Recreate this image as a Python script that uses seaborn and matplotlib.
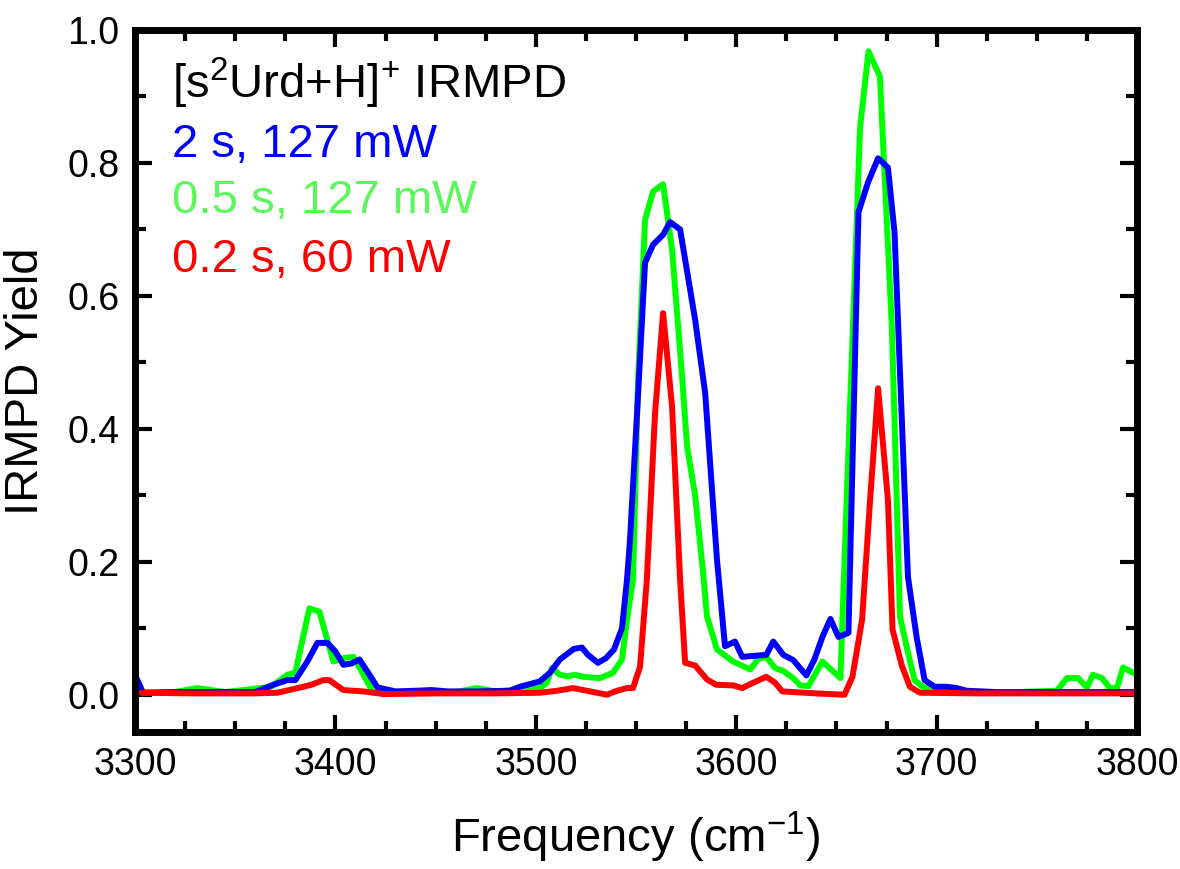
import numpy as np
import pandas as pd
import matplotlib
matplotlib.use("Agg")
import matplotlib.pyplot as plt
from matplotlib.ticker import MultipleLocator
import seaborn as sns

# ---- data ----
blue_x = [3300, 3304, 3320, 3340, 3360, 3369, 3376, 3380, 3386, 3391, 3396, 3400, 3404, 3408, 3412,
          3417, 3421, 3430, 3440, 3448, 3456, 3470, 3487, 3492, 3497, 3502, 3507, 3512, 3519, 3523,
          3526, 3531, 3535, 3539, 3543, 3545.5, 3547, 3551, 3554.5, 3558.5, 3563.5, 3567, 3572, 3579.5,
          3584.5, 3590.4, 3594.4, 3599.4, 3603, 3615, 3618.5, 3623.5, 3628.5, 3635, 3639, 3643, 3647,
          3651, 3656, 3661, 3665.8, 3670.8, 3675.7, 3679, 3685.7, 3690, 3694, 3699, 3705, 3710, 3715,
          3730, 3750, 3770, 3800]
blue_y = [0.030, 0.003, 0.004, 0.004, 0.004, 0.015, 0.022, 0.022, 0.05, 0.078, 0.078, 0.065, 0.045,
          0.047, 0.053, 0.03, 0.011, 0.005, 0.006, 0.007, 0.005, 0.005, 0.006, 0.012, 0.016, 0.02,
          0.033, 0.053, 0.069, 0.071, 0.06, 0.048, 0.055, 0.068, 0.10, 0.173, 0.233, 0.45, 0.65, 0.677,
          0.692, 0.711, 0.70, 0.564, 0.454, 0.203, 0.073, 0.08, 0.057, 0.06, 0.08, 0.06, 0.052, 0.029,
          0.053, 0.087, 0.114, 0.087, 0.093, 0.726, 0.771, 0.807, 0.793, 0.695, 0.177, 0.087, 0.022,
          0.012, 0.012, 0.01, 0.006, 0.004, 0.004, 0.004, 0.004]

green_x = [3300, 3304, 3320, 3331, 3345, 3368, 3376, 3380, 3387, 3392, 3399, 3404, 3409, 3419, 3440,
           3460, 3470.6, 3480, 3502, 3505.5, 3508, 3512, 3515.6, 3519.6, 3523.6, 3532, 3538.5, 3543,
           3545.5, 3548.5, 3551, 3554.5, 3558.5, 3563.5, 3568, 3573, 3575.5, 3579.5, 3583.5, 3585.4,
           3590.4, 3598.4, 3607, 3611, 3615, 3619.4, 3623.4, 3628.4, 3632, 3636, 3643, 3652, 3654,
           3661.8, 3666, 3671.7, 3677.7, 3681.7, 3685.7, 3689, 3693, 3700, 3720, 3740, 3760, 3765,
           3770.6, 3775, 3778, 3782.5, 3786.5, 3790, 3793, 3800]
green_y = [0.012, 0.003, 0.004, 0.01, 0.004, 0.012, 0.03, 0.033, 0.13, 0.125, 0.05, 0.055, 0.057,
           0.003, 0.004, 0.004, 0.01, 0.005, 0.01, 0.018, 0.04, 0.03, 0.028, 0.03, 0.027, 0.025, 0.033,
           0.053, 0.113, 0.173, 0.473, 0.714, 0.757, 0.768, 0.669, 0.478, 0.373, 0.30, 0.183, 0.118,
           0.068, 0.05, 0.038, 0.054, 0.057, 0.04, 0.036, 0.025, 0.014, 0.013, 0.05, 0.025, 0.2,
           0.853, 0.968, 0.93, 0.55, 0.118, 0.063, 0.022, 0.012, 0.004, 0.003, 0.004, 0.006, 0.025,
           0.025, 0.011, 0.03, 0.025, 0.01, 0.01, 0.041, 0.03]

red_x = [3303, 3330, 3360, 3371, 3384, 3388, 3394, 3397, 3404, 3414, 3424, 3450, 3480, 3502, 3510.6,
         3518.6, 3525.5, 3535.5, 3540.5, 3545.5, 3548.5, 3552, 3555.4, 3559.5, 3563.5, 3568, 3572,
         3574.5, 3579.5, 3585.4, 3590, 3598.5, 3603, 3607, 3615, 3619.4, 3623, 3640, 3654, 3658,
         3662.8, 3666.8, 3670.8, 3675.7, 3678, 3682.7, 3686.7, 3691.7, 3720, 3760, 3800]
red_y = [0.003, 0.002, 0.002, 0.003, 0.012, 0.015, 0.022, 0.022, 0.007, 0.005, 0.001, 0.002, 0.002,
         0.003, 0.006, 0.01, 0.006, 0.0, 0.006, 0.01, 0.01, 0.042, 0.173, 0.424, 0.574, 0.433, 0.173,
         0.048, 0.044, 0.023, 0.015, 0.014, 0.01, 0.016, 0.027, 0.018, 0.005, 0.002, 0.0, 0.027,
         0.113, 0.293, 0.461, 0.293, 0.098, 0.043, 0.012, 0.003, 0.002, 0.002, 0.002]

series_names = ["2 s, 127 mW", "0.5 s, 127 mW", "0.2 s, 60 mW"]
title_text = r"[s$^{2}$Urd+H]$^{+}$ IRMPD"
x_ticks = [3300, 3400, 3500, 3600, 3700, 3800]
y_ticks = [0.0, 0.2, 0.4, 0.6, 0.8, 1.0]

line_colors = {"2 s, 127 mW": "#0000ff", "0.5 s, 127 mW": "#00ff00", "0.2 s, 60 mW": "#ff0000"}
text_colors = {"2 s, 127 mW": "#0000ff", "0.5 s, 127 mW": "#5cf75c", "0.2 s, 60 mW": "#ff0000"}

df = pd.concat([
    pd.DataFrame({"freq": blue_x, "yield": blue_y, "series": series_names[0]}),
    pd.DataFrame({"freq": green_x, "yield": green_y, "series": series_names[1]}),
    pd.DataFrame({"freq": red_x, "yield": red_y, "series": series_names[2]}),
], ignore_index=True)

sns.set_style("white")
plt.rcParams["font.family"] = ["Liberation Sans", "DejaVu Sans"]
plt.rcParams["mathtext.fontset"] = "custom"
plt.rcParams["mathtext.rm"] = "Liberation Sans"
plt.rcParams["mathtext.it"] = "Liberation Sans"
plt.rcParams["mathtext.bf"] = "Liberation Sans:bold"
plt.rcParams["text.color"] = "black"
plt.rcParams["axes.labelcolor"] = "black"
plt.rcParams["xtick.color"] = "black"
plt.rcParams["ytick.color"] = "black"

fig = plt.figure(figsize=(11.8, 8.69), dpi=100)
ax = fig.add_axes([0.1144, 0.1577, 0.8492, 0.8078])

sns.lineplot(data=df, x="freq", y="yield", hue="series",
             hue_order=[series_names[1], series_names[0], series_names[2]],
             palette=line_colors, estimator=None, sort=False, linewidth=4.3,
             legend=False, ax=ax)

ax.set_xlim(3300, 3800)
ax.set_ylim(-0.056, 1.0)
ax.set_xticks(x_ticks)
ax.set_yticks(y_ticks)
ax.set_xticklabels([str(t) for t in x_ticks])
ax.set_yticklabels([f"{t:.1f}" for t in y_ticks])
ax.xaxis.set_minor_locator(MultipleLocator(25))
ax.yaxis.set_minor_locator(MultipleLocator(0.1))

for s in ax.spines.values():
    s.set_linewidth(5)
    s.set_color("black")

ax.tick_params(which="both", direction="in", top=True, right=True, bottom=True, left=True,
               width=3, color="black", labelcolor="black")
ax.tick_params(which="major", length=12, labelsize=27, pad=11)
ax.tick_params(which="minor", length=8)

ax.set_xlabel(r"Frequency (cm$^{-1}$)", fontsize=34, labelpad=19, color="black")
ax.set_ylabel("IRMPD Yield", fontsize=34, labelpad=14, color="black")

ax.text(0.037, 0.903, title_text, transform=ax.transAxes, fontsize=34,
        color="black", va="baseline", ha="left")
ypos = [0.819, 0.739, 0.655]
for name, yp in zip(series_names, ypos):
    ax.text(0.037, yp, name, transform=ax.transAxes, fontsize=34,
            color=text_colors[name], va="baseline", ha="left")

fig.savefig("out.png", dpi=100)
